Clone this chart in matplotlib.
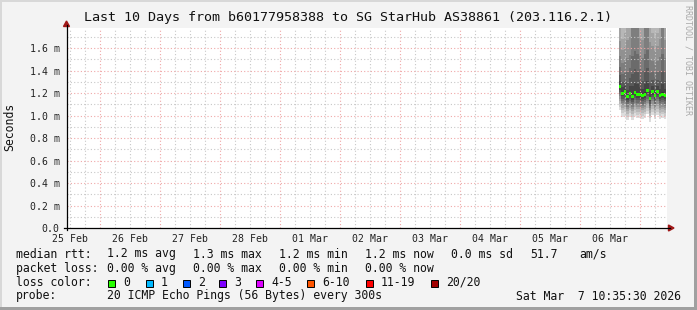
import matplotlib
matplotlib.use("Agg")
import matplotlib.pyplot as plt
import matplotlib.dates as mdates
import matplotlib.ticker as mticker
from matplotlib.patches import Rectangle, Polygon
from matplotlib.lines import Line2D
import numpy as np
import pandas as pd

# ---------------- data ----------------
title = "Last 10 Days from b60177958388 to SG StarHub AS38861 (203.116.2.1)"
y_label = "Seconds"
watermark = "RRDTOOL / TOBI OETIKER"
view_start = "2026-02-25 10:35:30"
view_end = "2026-03-07 10:35:30"
data_start = "2026-03-06 15:30"          # first hourly bin
y_max_ms = 1.778
y_major = [0.0, 0.2, 0.4, 0.6, 0.8, 1.0, 1.2, 1.4, 1.6]

# hourly median RTT (ms)
median_rtt = [1.26, 1.20, 1.21, 1.17, 1.20, 1.17, 1.205, 1.185, 1.19, 1.175,
              1.19, 1.22, 1.155, 1.215, 1.175, 1.215, 1.18, 1.19, 1.175]

# sorted 20 pings per hourly bin (ms), used for the smoke
pings = [
    [1.05, 1.08, 1.105, 1.13, 1.15, 1.17, 1.19, 1.21, 1.23, 1.248, 1.27, 1.31, 1.36, 1.43, 1.53, 1.66, 1.78, 2.01, 2.26, 2.66],
    [0.99, 1.02, 1.045, 1.07, 1.09, 1.11, 1.13, 1.15, 1.17, 1.188, 1.21, 1.25, 1.30, 1.37, 1.47, 1.58, 1.68, 1.95, 2.20, 2.60],
    [1.00, 1.03, 1.055, 1.08, 1.10, 1.12, 1.14, 1.16, 1.18, 1.198, 1.22, 1.26, 1.31, 1.38, 1.48, 1.61, 1.73, 1.96, 2.21, 2.61],
    [0.96, 0.99, 1.015, 1.04, 1.06, 1.08, 1.10, 1.12, 1.14, 1.158, 1.18, 1.23, 1.30, 1.39, 1.51, 1.67, 1.82, 2.02, 2.27, 2.67],
    [0.99, 1.02, 1.045, 1.07, 1.09, 1.11, 1.13, 1.15, 1.17, 1.188, 1.21, 1.26, 1.33, 1.42, 1.54, 1.70, 1.85, 2.05, 2.30, 2.70],
    [0.96, 0.99, 1.015, 1.04, 1.06, 1.08, 1.10, 1.12, 1.14, 1.158, 1.185, 1.26, 1.37, 1.53, 1.80, 1.97, 2.17, 2.37, 2.57, 2.97],
    [0.995, 1.025, 1.05, 1.075, 1.095, 1.115, 1.135, 1.155, 1.175, 1.193, 1.22, 1.30, 1.41, 1.57, 1.81, 2.01, 2.20, 2.40, 2.60, 3.00],
    [0.975, 1.005, 1.03, 1.055, 1.075, 1.095, 1.115, 1.135, 1.155, 1.173, 1.20, 1.28, 1.39, 1.55, 1.79, 1.99, 2.20, 2.40, 2.60, 3.00],
    [0.98, 1.01, 1.035, 1.06, 1.08, 1.10, 1.12, 1.14, 1.16, 1.178, 1.20, 1.25, 1.32, 1.41, 1.53, 1.69, 1.84, 2.04, 2.29, 2.69],
    [0.965, 0.995, 1.02, 1.045, 1.065, 1.085, 1.105, 1.125, 1.145, 1.163, 1.185, 1.235, 1.305, 1.395, 1.515, 1.675, 1.825, 2.03, 2.28, 2.68],
    [0.98, 1.01, 1.035, 1.06, 1.08, 1.10, 1.12, 1.14, 1.16, 1.178, 1.205, 1.28, 1.39, 1.55, 1.79, 1.99, 2.19, 2.39, 2.59, 2.99],
    [1.01, 1.04, 1.065, 1.09, 1.11, 1.13, 1.15, 1.17, 1.19, 1.208, 1.235, 1.31, 1.42, 1.58, 1.82, 2.02, 2.22, 2.42, 2.62, 3.02],
    [0.945, 0.975, 1.00, 1.025, 1.045, 1.065, 1.085, 1.105, 1.125, 1.143, 1.165, 1.215, 1.285, 1.375, 1.495, 1.655, 1.805, 2.00, 2.25, 2.65],
    [1.005, 1.035, 1.06, 1.085, 1.105, 1.125, 1.145, 1.165, 1.185, 1.203, 1.225, 1.265, 1.315, 1.385, 1.485, 1.615, 1.735, 1.965, 2.20, 2.60],
    [0.965, 0.995, 1.02, 1.045, 1.065, 1.085, 1.105, 1.125, 1.145, 1.163, 1.185, 1.225, 1.275, 1.345, 1.445, 1.575, 1.695, 1.925, 2.18, 2.58],
    [1.005, 1.035, 1.06, 1.085, 1.105, 1.125, 1.145, 1.165, 1.185, 1.203, 1.225, 1.265, 1.315, 1.385, 1.485, 1.615, 1.735, 1.965, 2.20, 2.60],
    [0.97, 1.00, 1.025, 1.05, 1.07, 1.09, 1.11, 1.13, 1.15, 1.168, 1.19, 1.24, 1.31, 1.40, 1.52, 1.68, 1.83, 2.03, 2.28, 2.68],
    [0.98, 1.01, 1.035, 1.06, 1.08, 1.10, 1.12, 1.14, 1.16, 1.178, 1.205, 1.28, 1.39, 1.55, 1.79, 1.99, 2.19, 2.39, 2.59, 2.99],
    [0.965, 0.995, 1.02, 1.045, 1.065, 1.085, 1.105, 1.125, 1.145, 1.163, 1.185, 1.235, 1.305, 1.395, 1.515, 1.675, 1.825, 2.03, 2.28, 2.68],
]

# legend texts
rtt_row = [("median rtt:", 16), ("1.2 ms avg", 107.3), ("1.3 ms max", 193.3),
           ("1.2 ms min", 279.3), ("1.2 ms now", 365), ("0.0 ms sd", 451),
           ("51.7", 530), ("am/s", 579.3)]
loss_row = [("packet loss:", 16), ("0.00 % avg", 107.3), ("0.00 % max", 193.3),
            ("0.00 % min", 279.3), ("0.00 % now", 365)]
loss_labels = ["0", "1", "2", "3", "4-5", "6-10", "11-19", "20/20"]
loss_colors = ["#26ff00", "#00b8ff", "#0059ff", "#7e00ff", "#dd00ff", "#ff5500", "#ff0000", "#a10000"]
loss_box_x = [108.3, 145.7, 182.7, 219.3, 256.0, 307.3, 365.7, 430.7]
probe_label = "probe:"
probe_text = "20 ICMP Echo Pings (56 Bytes) every 300s"
stamp_text = "Sat Mar  7 10:35:30 2026"

# ---------------- figure ----------------
W, H, DPI = 697, 310, 100
MONO = "DejaVu Sans Mono"
BG = "#f3f3f3"

fig = plt.figure(figsize=(W / DPI, H / DPI), dpi=DPI, facecolor=BG)

def fx(x):
    return x / W

def fy(y):
    return 1 - y / H

PL, PR, PT, PB = 66.5, 666.5, 28.0, 228.0
ax = fig.add_axes([fx(PL), fy(PB), (PR - PL) / W, (PB - PT) / H])
ax.set_facecolor("white")
for s in ax.spines.values():
    s.set_visible(False)

t0 = mdates.date2num(pd.Timestamp(view_start))
t1 = mdates.date2num(pd.Timestamp(view_end))
ax.set_xlim(t0, t1)
ax.set_ylim(0, y_max_ms)

# smoke
P = np.array(pings)
edges = mdates.date2num(pd.date_range(data_start, periods=len(median_rtt) + 1, freq="h"))
n = P.shape[1]
half = n // 2
for ib in range(half):
    g = int(190 / half * (half - (ib + 1))) + 50
    col = "#%02x%02x%02x" % (g, g, g)
    lo = np.append(P[:, ib], P[-1, ib])
    hi = np.append(P[:, n - 1 - ib], P[-1, n - 1 - ib])
    ax.fill_between(edges, lo, hi, step="post", color=col, linewidth=0,
                    antialiased=False, zorder=1)

# grid lines
grid_minor = "#c8c8c8"
grid_major = "#f0a8a8"
dots = (0, (1, 2))
for t in pd.date_range("2026-02-25 12:00", view_end, freq="6h"):
    c = grid_major if t.hour == 0 else grid_minor
    ax.axvline(mdates.date2num(t), color=c, lw=0.8, ls=dots, zorder=2)
for v in np.arange(0.1, y_max_ms, 0.1):
    is_major = abs(round(v * 10) % 2) == 0
    ax.axhline(v, color=grid_major if is_major else grid_minor, lw=0.8, ls=dots, zorder=2)

# median (green per-bin marks)
swidth = 3 * y_max_ms / (PB - PT)
ax.bar(edges[:-1], [swidth] * len(median_rtt),
       bottom=np.array(median_rtt) - swidth / 2, width=1 / 24, align="edge",
       color=loss_colors[0], linewidth=0, zorder=3)

# ticks
ax.xaxis.set_major_locator(mdates.HourLocator(byhour=[12]))
ax.xaxis.set_major_formatter(mdates.DateFormatter("%d %b"))
ax.set_yticks(y_major)
ax.yaxis.set_major_formatter(mticker.FuncFormatter(lambda v, p: "0.0" if v == 0 else "%.1f m" % v))
ax.tick_params(axis="x", length=0, pad=4.5, labelsize=7.1)
ax.tick_params(axis="y", length=0, pad=5.0, labelsize=7.1)
for lab in ax.get_xticklabels() + ax.get_yticklabels():
    lab.set_fontfamily(MONO)
    lab.set_color("#222222")

# axes lines and arrows
fig.add_artist(Line2D([fx(PL), fx(PL)], [fy(PB + 2), fy(25)], color="black", lw=0.9))
fig.add_artist(Line2D([fx(PL - 3), fx(670)], [fy(PB), fy(PB)], color="black", lw=0.9))
arrow_col = "#a01818"
fig.add_artist(Polygon([(fx(PL), fy(21)), (fx(PL - 3), fy(26.5)), (fx(PL + 3), fy(26.5))],
                       closed=True, color=arrow_col, transform=fig.transFigure))
fig.add_artist(Polygon([(fx(674), fy(PB)), (fx(668.5), fy(PB - 3)), (fx(668.5), fy(PB + 3))],
                       closed=True, color=arrow_col, transform=fig.transFigure))

# title / labels
fig.text(fx(348.5), fy(18), title, ha="center", va="center", fontsize=9.6,
         family=MONO, color="#111111")
fig.text(fx(10), fy(127), y_label, ha="center", va="center", rotation=90,
         fontsize=8.3, family=MONO, color="#111111")
fig.text(fx(688), fy(5), watermark, ha="center", va="top", rotation=270,
         fontsize=6.0, family=MONO, color="#aaaaaa")

LF = 8.3
for txt, x in rtt_row:
    fig.text(fx(x), fy(254), txt, ha="left", va="center", fontsize=LF, family=MONO, color="#111111")
for txt, x in loss_row:
    fig.text(fx(x), fy(268.3), txt, ha="left", va="center", fontsize=LF, family=MONO, color="#111111")
fig.text(fx(16), fy(282.3), "loss color:", ha="left", va="center", fontsize=LF, family=MONO, color="#111111")
for lab, col, bx in zip(loss_labels, loss_colors, loss_box_x):
    fig.add_artist(Rectangle((fx(bx), fy(286.5)), 7 / W, 7 / H, transform=fig.transFigure,
                             facecolor=col, edgecolor="black", lw=0.7))
    fig.text(fx(bx + 15), fy(282.3), lab, ha="left", va="center", fontsize=LF, family=MONO, color="#111111")
fig.text(fx(16), fy(296), probe_label, ha="left", va="center", fontsize=LF, family=MONO, color="#111111")
fig.text(fx(107.3), fy(296), probe_text, ha="left", va="center", fontsize=LF, family=MONO, color="#111111")
fig.text(fx(680.7), fy(296), stamp_text, ha="right", va="center", fontsize=LF, family=MONO, color="#111111")

# 3D border shades
fig.add_artist(Rectangle((0, fy(1.5)), 1, 1.5 / H, transform=fig.transFigure, color="#d8d8d8", lw=0))
fig.add_artist(Rectangle((0, 0), 1.5 / W, 1, transform=fig.transFigure, color="#d8d8d8", lw=0))
fig.add_artist(Rectangle((0, 0), 1, 3 / H, transform=fig.transFigure, color="#a0a0a0", lw=0))
fig.add_artist(Rectangle((fx(W - 3), 0), 3 / W, 1, transform=fig.transFigure, color="#a0a0a0", lw=0))

fig.savefig("out.png", dpi=DPI, facecolor=BG)
